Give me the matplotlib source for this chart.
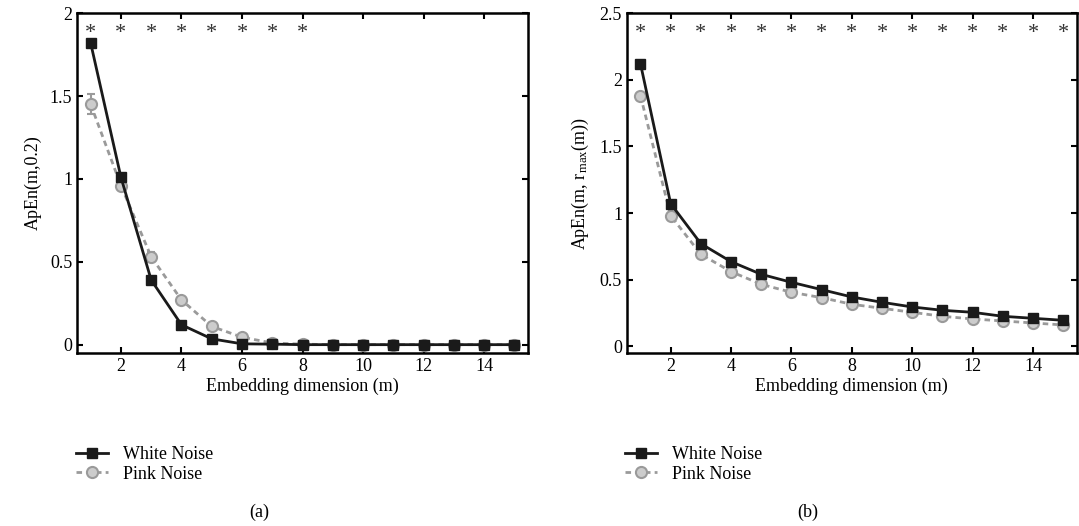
import matplotlib.pyplot as plt
from matplotlib.lines import Line2D
import numpy as np

plt.rcParams['font.family'] = ['Liberation Serif', 'DejaVu Serif']
plt.rcParams['mathtext.fontset'] = 'stix'

m = np.arange(1, 16)

# panel (a): ApEn(m, 0.2)
white_a = [1.82, 1.01, 0.39, 0.12, 0.035, 0.005, 0.003, 0.0, 0.0, 0.0, 0.0, 0.0, 0.0, 0.0, 0.0]
white_a_err = [0.02, 0.02, 0.02, 0.01, 0.005, 0.003, 0.002, 0, 0, 0, 0, 0, 0, 0, 0]
pink_a = [1.45, 0.96, 0.53, 0.27, 0.11, 0.045, 0.01, 0.003, 0.0, 0.0, 0.0, 0.0, 0.0, 0.0, 0.0]
pink_a_err = [0.06, 0.02, 0.03, 0.02, 0.015, 0.01, 0.005, 0.002, 0, 0, 0, 0, 0, 0, 0]
stars_a = [1, 2, 3, 4, 5, 6, 7, 8]

# panel (b): ApEn(m, r_max(m))
white_b = [2.12, 1.07, 0.77, 0.635, 0.54, 0.48, 0.425, 0.37, 0.33, 0.295, 0.27, 0.255, 0.225, 0.21, 0.195]
white_b_err = [0.01] * 15
pink_b = [1.88, 0.98, 0.69, 0.56, 0.465, 0.405, 0.365, 0.315, 0.285, 0.255, 0.225, 0.205, 0.19, 0.175, 0.16]
pink_b_err = [0.015] * 15
stars_b = list(range(1, 16))

fig = plt.figure(figsize=(10.79, 5.26), dpi=100)
ax1 = fig.add_axes([0.0714, 0.329, 0.418, 0.646])
ax2 = fig.add_axes([0.581, 0.329, 0.417, 0.646])

white_style = dict(color='#1a1a1a', lw=2, marker='s', ms=7, mfc='#1a1a1a', mec='#1a1a1a')
pink_style = dict(color='#9a9a9a', lw=2, ls=(0, (2, 1.5)), marker='o', ms=8,
                  mfc='#cccccc', mec='#9a9a9a', mew=1.5)

def draw(ax, white, werr, pink, perr, stars, star_y, ylim, yticks, yticklabels, ylabel):
    ax.errorbar(m, white, yerr=werr, ecolor='#bbbbbb', elinewidth=1.2,
                capsize=0, zorder=3, **white_style)
    ax.errorbar(m, pink, yerr=perr, ecolor='#9a9a9a', elinewidth=1.5,
                capsize=3, zorder=2, **pink_style)
    for s in stars:
        ax.text(s, star_y, '*', ha='center', va='center', fontsize=16, color='#333333')
    ax.set_xlim(0.55, 15.45)
    ax.set_ylim(*ylim)
    ax.set_xticks([2, 4, 6, 8, 10, 12, 14])
    ax.set_yticks(yticks)
    ax.set_yticklabels(yticklabels)
    ax.tick_params(direction='in', top=True, right=True, labelsize=13, length=4, width=1.5)
    for sp in ax.spines.values():
        sp.set_linewidth(1.8)
    ax.set_xlabel('Embedding dimension (m)', fontsize=13, labelpad=2)
    ax.set_ylabel(ylabel, fontsize=13, labelpad=6)

draw(ax1, white_a, white_a_err, pink_a, pink_a_err, stars_a, 1.88, (-0.05, 2.0),
     [0, 0.5, 1, 1.5, 2], ['0', '0.5', '1', '1.5', '2'], 'ApEn(m,0.2)')
draw(ax2, white_b, white_b_err, pink_b, pink_b_err, stars_b, 2.35, (-0.05, 2.5),
     [0, 0.5, 1, 1.5, 2, 2.5], ['0', '0.5', '1', '1.5', '2', '2.5'],
     r'ApEn(m, r$_{\mathregular{max}}$(m))')

handles = [Line2D([], [], **white_style), Line2D([], [], **pink_style)]
labels = ['White Noise', 'Pink Noise']
fig.legend(handles, labels, loc='upper left', bbox_to_anchor=(0.055, 0.183),
           frameon=False, fontsize=13, handlelength=1.8, handletextpad=0.8, labelspacing=0.15)
fig.legend(handles, labels, loc='upper left', bbox_to_anchor=(0.564, 0.183),
           frameon=False, fontsize=13, handlelength=1.8, handletextpad=0.8, labelspacing=0.15)

fig.text(0.24, 0.017, '(a)', ha='center', fontsize=13)
fig.text(0.749, 0.017, '(b)', ha='center', fontsize=13)

fig.savefig('out.png', dpi=100)
